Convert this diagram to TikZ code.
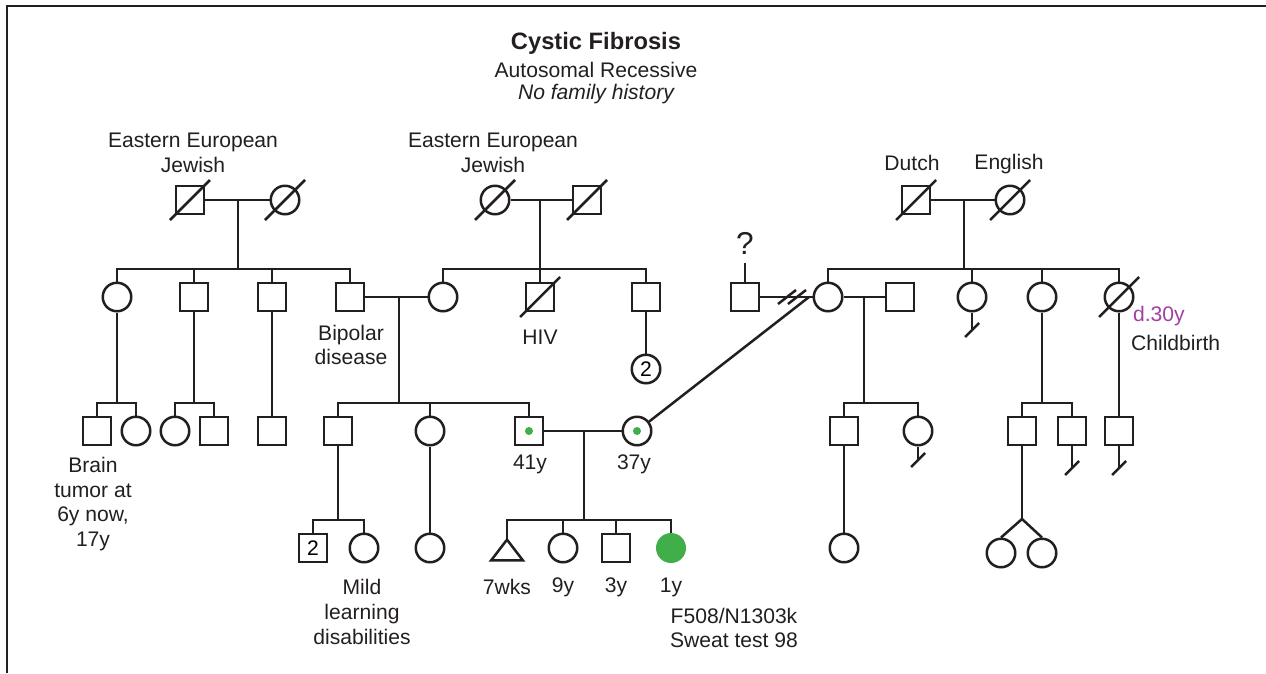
\documentclass[tikz,border=0pt]{standalone}
\usepackage{fontspec}
\setmainfont{Liberation Sans}
\usepackage{tikz}
\usetikzlibrary{positioning}
\definecolor{pedink}     {RGB}{35,  31,  32}
\definecolor{cfgreen}    {RGB}{64,  174, 73}
\definecolor{deathpurple}{RGB}{160, 64,  160}
\tikzset{
  pedline/.style={
    draw=pedink, line width=0.05cm
  },
  pedmale/.style={
    rectangle, draw=pedink, line width=0.05cm,
    minimum size=0.56cm, inner sep=0pt, fill=white,
    font=\fontsize{12}{14}\selectfont
  },
  pedfemale/.style={
    circle, draw=pedink, line width=0.05cm,
    minimum size=0.57cm, inner sep=0pt, fill=white,
    font=\fontsize{12}{14}\selectfont
  },
  pedaffected/.style={
    circle, fill=cfgreen, minimum size=0.6cm, inner sep=0pt
  },
  pedunknown/.style={
    rectangle, minimum width=0.62cm, minimum height=0.4cm, inner sep=0pt
  },
  pedlabel/.style={
    font=\fontsize{12}{14}\selectfont, text=pedink,
    align=center, inner sep=1pt
  },
}

\begin{document}
\begin{tikzpicture}[x=0.02cm, y=-0.02cm]
  \useasboundingbox (0,0) rectangle (1266,673);
  \draw[line width=0.05cm, pedink] (1266,6) -- (7,6) -- (7,673);

  % title
  \node[pedlabel, font=\fontsize{13.5}{16}\selectfont\bfseries] (title) at (596,43) {Cystic Fibrosis};
  \node[pedlabel] (mode) at (596,70) {Autosomal Recessive};
  \node[pedlabel, font=\fontsize{12}{14}\selectfont\itshape] (hist) at (596,94) {No family history};

  % generation I
  \node[pedmale]   (gIa) at (190,200) {};
  \node[pedfemale] (gIb) at (285,200) {};
  \node[pedfemale] (gIc) at (495,200) {};
  \node[pedmale]   (gId) at (587,200) {};
  \node[pedmale]   (gIe) at (916,200) {};
  \node[pedfemale] (gIf) at (1010,200) {};
  \node[pedlabel] (eejA) at (193,153) {Eastern European\\Jewish};
  \node[pedlabel] (eejB) at (493,153) {Eastern European\\Jewish};
  \node[pedlabel] (dutch) at (912,163) {Dutch};
  \node[pedlabel] (english) at (1009,164) {English};

  % generation II
  \node[pedfemale] (IIa) at (117,297) {};
  \node[pedmale]   (IIb) at (194,297) {};
  \node[pedmale]   (IIc) at (272,297) {};
  \node[pedmale]   (IId) at (350,297) {};
  \node[pedfemale] (IIe) at (443,297) {};
  \node[pedmale]   (IIf) at (540,297) {};
  \node[pedmale]   (IIg) at (646,297) {};
  \node[pedmale]   (Q)   at (745,297) {};
  \node[pedfemale] (IIh) at (828,297) {};
  \node[pedmale]   (IIi) at (900,297) {};
  \node[pedfemale] (IIj) at (972,297) {};
  \node[pedfemale] (IIk) at (1042,297) {};
  \node[pedfemale] (IIl) at (1119,297) {};
  \node[pedlabel, font=\fontsize{18}{20}\selectfont] (qmark) at (745,243) {?};
  \node[pedlabel] (bipolar) at (351,345) {Bipolar\\disease};
  \node[pedlabel] (hiv) at (540,337) {HIV};
  \node[pedlabel, text=deathpurple, anchor=west] (d30) at (1131,316) {d.30y};
  \node[pedlabel, anchor=west] (birth) at (1129,343) {Childbirth};

  % generation III
  \node[pedmale]   (IIIa) at (97,431) {};
  \node[pedfemale] (IIIb) at (136,431) {};
  \node[pedfemale] (IIIc) at (175,431) {};
  \node[pedmale]   (IIId) at (214,431) {};
  \node[pedmale]   (IIIe) at (272,431) {};
  \node[pedmale]   (IIIf) at (338,431) {};
  \node[pedfemale] (IIIg) at (430,431) {};
  \node[pedmale]   (IIIh) at (529,431) {};
  \node[pedfemale] (IIIi) at (646,369) {2};
  \node[pedfemale] (IIIj) at (637,431) {};
  \node[pedmale]   (IIIk) at (844,431) {};
  \node[pedfemale] (IIIl) at (918,431) {};
  \node[pedmale]   (IIIm) at (1022,431) {};
  \node[pedmale]   (IIIn) at (1072,431) {};
  \node[pedmale]   (IIIo) at (1119,431) {};
  \node[pedlabel] (brain) at (93,504) {Brain\\tumor at\\6y now,\\17y};
  \node[pedlabel] (age41) at (530,464) {41y};
  \node[pedlabel] (age37) at (634,464) {37y};

  % generation IV
  \node[pedunknown] (IVa) at (507,550) {};
  \node[pedfemale]  (IVb) at (563,548) {};
  \node[pedmale]    (IVc) at (616,548) {};
  \node[pedaffected] (IVd) at (671,548) {};
  \node[pedmale]    (IVe) at (313,548) {2};
  \node[pedfemale]  (IVf) at (364,548) {};
  \node[pedfemale]  (IVg) at (430,548) {};
  \node[pedfemale]  (IVh) at (844,548) {};
  \node[pedfemale]  (IVi) at (1001,553) {};
  \node[pedfemale]  (IVj) at (1042,553) {};
  \draw[pedline] (IVa.north) -- (IVa.south east) -- (IVa.south west) -- cycle;
  \node[pedlabel] (age7w) at (507,587) {7wks};
  \node[pedlabel] (age9) at (563,587) {9y};
  \node[pedlabel] (age3) at (616,587) {3y};
  \node[pedlabel] (age1) at (671,587) {1y};
  \node[pedlabel] (mild) at (362,612) {Mild\\learning\\disabilities};
  \node[pedlabel] (geno) at (734,628) {F508/N1303k\\Sweat test 98};

  % marriage and sibship points
  \coordinate (mA) at (238,200);  \coordinate (sA) at (238,269);
  \coordinate (mB) at (540,200);  \coordinate (sB) at (540,269);
  \coordinate (mC) at (964,200);  \coordinate (sC) at (964,269);
  \coordinate (mD) at (399,297);  \coordinate (sD) at (399,403);
  \coordinate (sE) at (117,403);
  \coordinate (sF) at (194,403);
  \coordinate (mQ) at (809,297);
  \coordinate (mH) at (864,297);  \coordinate (sH) at (864,403);
  \coordinate (sK) at (1042,403);
  \coordinate (mJ) at (584,431);  \coordinate (sJ) at (584,520);
  \coordinate (sL) at (338,520);
  \coordinate (tw) at (1022,519);
  \coordinate (qtop) at (745,263);

  % couples
  \draw[pedline] (gIa) -- (gIb);
  \draw[pedline] (gIc) -- (gId);
  \draw[pedline] (gIe) -- (gIf);
  \draw[pedline] (IId) -- (IIe);
  \draw[pedline] (Q) -- (IIh);
  \draw[pedline] (IIh) -- (IIi);
  \draw[pedline] (IIIh) -- (IIIj);
  \draw[pedline] (Q) -- (qtop);
  \foreach \x in {787,797}
    \draw[pedline] (\x-9,304) -- (\x+9,290);

  % lines of descent
  \draw[pedline] (mA) -- (sA);
  \foreach \c in {IIa,IIb,IIc,IId} \draw[pedline] (sA) -| (\c.north);
  \draw[pedline] (mB) -- (sB);
  \foreach \c in {IIe,IIf,IIg} \draw[pedline] (sB) -| (\c.north);
  \draw[pedline] (mC) -- (sC);
  \foreach \c in {IIh,IIj,IIk,IIl} \draw[pedline] (sC) -| (\c.north);
  \draw[pedline] (IIa) -- (sE);
  \foreach \c in {IIIa,IIIb} \draw[pedline] (sE) -| (\c.north);
  \draw[pedline] (IIb) -- (sF);
  \foreach \c in {IIIc,IIId} \draw[pedline] (sF) -| (\c.north);
  \draw[pedline] (IIc) -- (IIIe);
  \draw[pedline] (mD) -- (sD);
  \foreach \c in {IIIf,IIIg,IIIh} \draw[pedline] (sD) -| (\c.north);
  \draw[pedline] (IIg) -- (IIIi);
  \draw[pedline] (mQ) -- (IIIj);
  \draw[pedline] (mH) -- (sH);
  \foreach \c in {IIIk,IIIl} \draw[pedline] (sH) -| (\c.north);
  \draw[pedline] (IIk) -- (sK);
  \foreach \c in {IIIm,IIIn} \draw[pedline] (sK) -| (\c.north);
  \draw[pedline] (IIl) -- (IIIo);
  \draw[pedline] (mJ) -- (sJ);
  \foreach \c in {IVa,IVb,IVc,IVd} \draw[pedline] (sJ) -| (\c.north);
  \draw[pedline] (IIIf) -- (sL);
  \foreach \c in {IVe,IVf} \draw[pedline] (sL) -| (\c.north);
  \draw[pedline] (IIIg) -- (IVg);
  \draw[pedline] (IIIk) -- (IVh);
  \draw[pedline] (IIIm) -- (tw);
  \draw[pedline] (tw) -- (IVi.north);
  \draw[pedline] (tw) -- (IVj.north);

  % no offspring
  \coordinate (nIIj) at (972,330);
  \coordinate (nIIIl) at (918,460);
  \coordinate (nIIIn) at (1072,468);
  \coordinate (nIIIo) at (1119,468);
  \foreach \c in {IIj,IIIl,IIIn,IIIo} {
    \draw[pedline] (\c.south) -- (n\c);
    \draw[pedline] ([shift={(-7,7)}]n\c) -- ([shift={(7,-7)}]n\c);
  }

  % deceased
  \foreach \d in {gIa,gIb,gIc,gId,gIe,gIf,IIf,IIl}
    \draw[pedline] ([shift={(-20,20)}]\d.center) -- ([shift={(20,-20)}]\d.center);

  % carriers
  \foreach \c in {IIIh,IIIj} \fill[cfgreen] (\c) circle (0.08cm);
\end{tikzpicture}
\end{document}
